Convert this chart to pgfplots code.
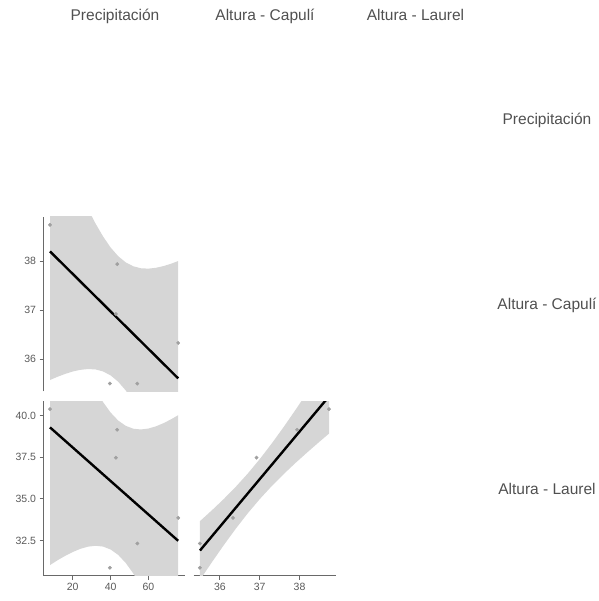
\documentclass[border=0pt]{standalone}
\usepackage{pgfplots}
\pgfplotsset{compat=1.18}
\usepackage{fontspec}
\setmainfont{Liberation Sans}
\definecolor{txtgray}{RGB}{80,80,80}
\definecolor{tickgray}{RGB}{90,90,90}
\definecolor{axgray}{RGB}{105,105,105}
\definecolor{bandgray}{RGB}{214,214,214}
\definecolor{ptgray}{RGB}{160,160,160}
\pgfplotsset{
  panel/.style={
    scale only axis, anchor=south west,
    width=141pt, height=174.5pt,
    axis line style={-, draw=axgray, line width=1.2pt},
    tick style={draw=axgray, line width=1pt},
    tick align=outside, major tick length=4pt,
    xtick pos=bottom, ytick pos=left,
    ticklabel style={font=\fontsize{10.5}{12}\selectfont, text=tickgray},
    /pgf/number format/assume math mode=true,
    clip=true,
  },
  band/.style={fill=bandgray, draw=none},
  pts/.style={only marks, mark=*, mark size=1.7pt, mark options={fill=ptgray, draw=ptgray}},
  fit/.style={black, line width=2.4pt, no marks},
}
\begin{document}
\begin{tikzpicture}
\path[use as bounding box] (0,0) rectangle (598pt,601pt);
% headers
\node[anchor=base, text=txtgray, font=\fontsize{15.5}{18}\selectfont] at (115pt,580.3pt) {Precipitación};
\node[anchor=base, text=txtgray, font=\fontsize{15.5}{18}\selectfont] at (265pt,580.3pt) {Altura - Capulí};
\node[anchor=base, text=txtgray, font=\fontsize{15.5}{18}\selectfont] at (415.5pt,580.3pt) {Altura - Laurel};
\node[anchor=base, text=txtgray, font=\fontsize{15.5}{18}\selectfont] at (547pt,476pt) {Precipitación};
\node[anchor=base, text=txtgray, font=\fontsize{15.5}{18}\selectfont] at (547pt,291pt) {Altura - Capulí};
\node[anchor=base, text=txtgray, font=\fontsize{15.5}{18}\selectfont] at (547pt,106pt) {Altura - Laurel};

% Panel A: Capuli vs Precipitacion
\begin{axis}[panel, at={(43.6pt,209.5pt)},
  xmin=4.615, xmax=79.085, ymin=35.338, ymax=38.902,
  axis y line*=left, axis x line=none,
  xtick=\empty, ytick={36,37,38}]
\addplot[band] coordinates {(8,40.826) (12,40.453) (16,40.089) (20,39.734) (24,39.392) (28,39.070) (32,38.771) (36,38.506) (40,38.279) (44,38.102) (48,37.975) (52,37.895) (56,37.855) (60,37.847) (64,37.865) (68,37.900) (72,37.948) (75.7,38.003)
 (75.7,33.209) (72,33.546) (68,33.902) (64,34.243) (60,34.567) (56,34.865) (52,35.133) (48,35.359) (44,35.538) (40,35.667) (36,35.748) (32,35.789) (28,35.796) (24,35.780) (20,35.746) (16,35.697) (12,35.639) (8,35.572)} -- cycle;
\addplot[pts] coordinates {(8,38.74) (43.5,37.94) (42.8,36.92) (75.7,36.33) (54.1,35.5) (39.6,35.5)};
\addplot[fit] coordinates {(8,38.199) (75.7,35.606)};
\end{axis}

% Panel B: Laurel vs Precipitacion
\begin{axis}[panel, at={(43.6pt,25.3pt)},
  xmin=4.615, xmax=79.085, ymin=30.383, ymax=40.877,
  axis lines*=left,
  xtick={20,40,60}, ytick={32.5,35,37.5,40},
  yticklabel style={/pgf/number format/.cd, fixed, fixed zerofill, precision=1}]
\addplot[band] coordinates {(8,47.583) (12,46.491) (16,45.418) (20,44.379) (24,43.383) (28,42.446) (32,41.586) (36,40.827) (40,40.197) (44,39.715) (48,39.395) (52,39.222) (56,39.177) (60,39.234) (64,39.367) (68,39.558) (72,39.792) (75.7,40.036)
 (75.7,24.926) (72,25.916) (68,26.956) (64,27.953) (60,28.892) (56,29.755) (52,30.516) (48,31.149) (44,31.635) (40,31.959) (36,32.135) (32,32.182) (28,32.128) (24,31.997) (20,31.807) (16,31.574) (12,31.313) (8,31.021)} -- cycle;
\addplot[pts] coordinates {(8,40.4) (43.5,39.16) (42.8,37.48) (75.7,33.86) (54.1,32.32) (39.6,30.86)};
\addplot[fit] coordinates {(8,39.302) (75.7,32.481)};
\end{axis}

% Panel C: Laurel vs Capuli
\begin{axis}[panel, at={(193.5pt,25.3pt)}, width=142pt,
  xmin=35.338, xmax=38.902, ymin=30.383, ymax=40.877,
  axis x line*=bottom, axis y line=none,
  xtick={36,37,38}, ytick=\empty]
\addplot[band] coordinates {(35.5,33.664) (35.8,34.317) (36.1,35.001) (36.4,35.732) (36.7,36.526) (37.0,37.391) (37.3,38.328) (37.6,39.322) (37.9,40.362) (38.2,41.432) (38.5,42.524) (38.74,43.408)
 (38.74,38.930) (38.5,38.440) (38.2,37.814) (37.9,37.168) (37.6,36.490) (37.3,35.768) (37.0,34.987) (36.7,34.136) (36.4,33.212) (36.1,32.227) (35.8,31.195) (35.5,30.130)} -- cycle;
\addplot[pts] coordinates {(38.74,40.4) (37.94,39.16) (36.92,37.48) (36.33,33.86) (35.5,32.32) (35.5,30.86)};
\addplot[fit] coordinates {(35.5,31.897) (38.74,41.169)};
\end{axis}
\end{tikzpicture}
\end{document}
